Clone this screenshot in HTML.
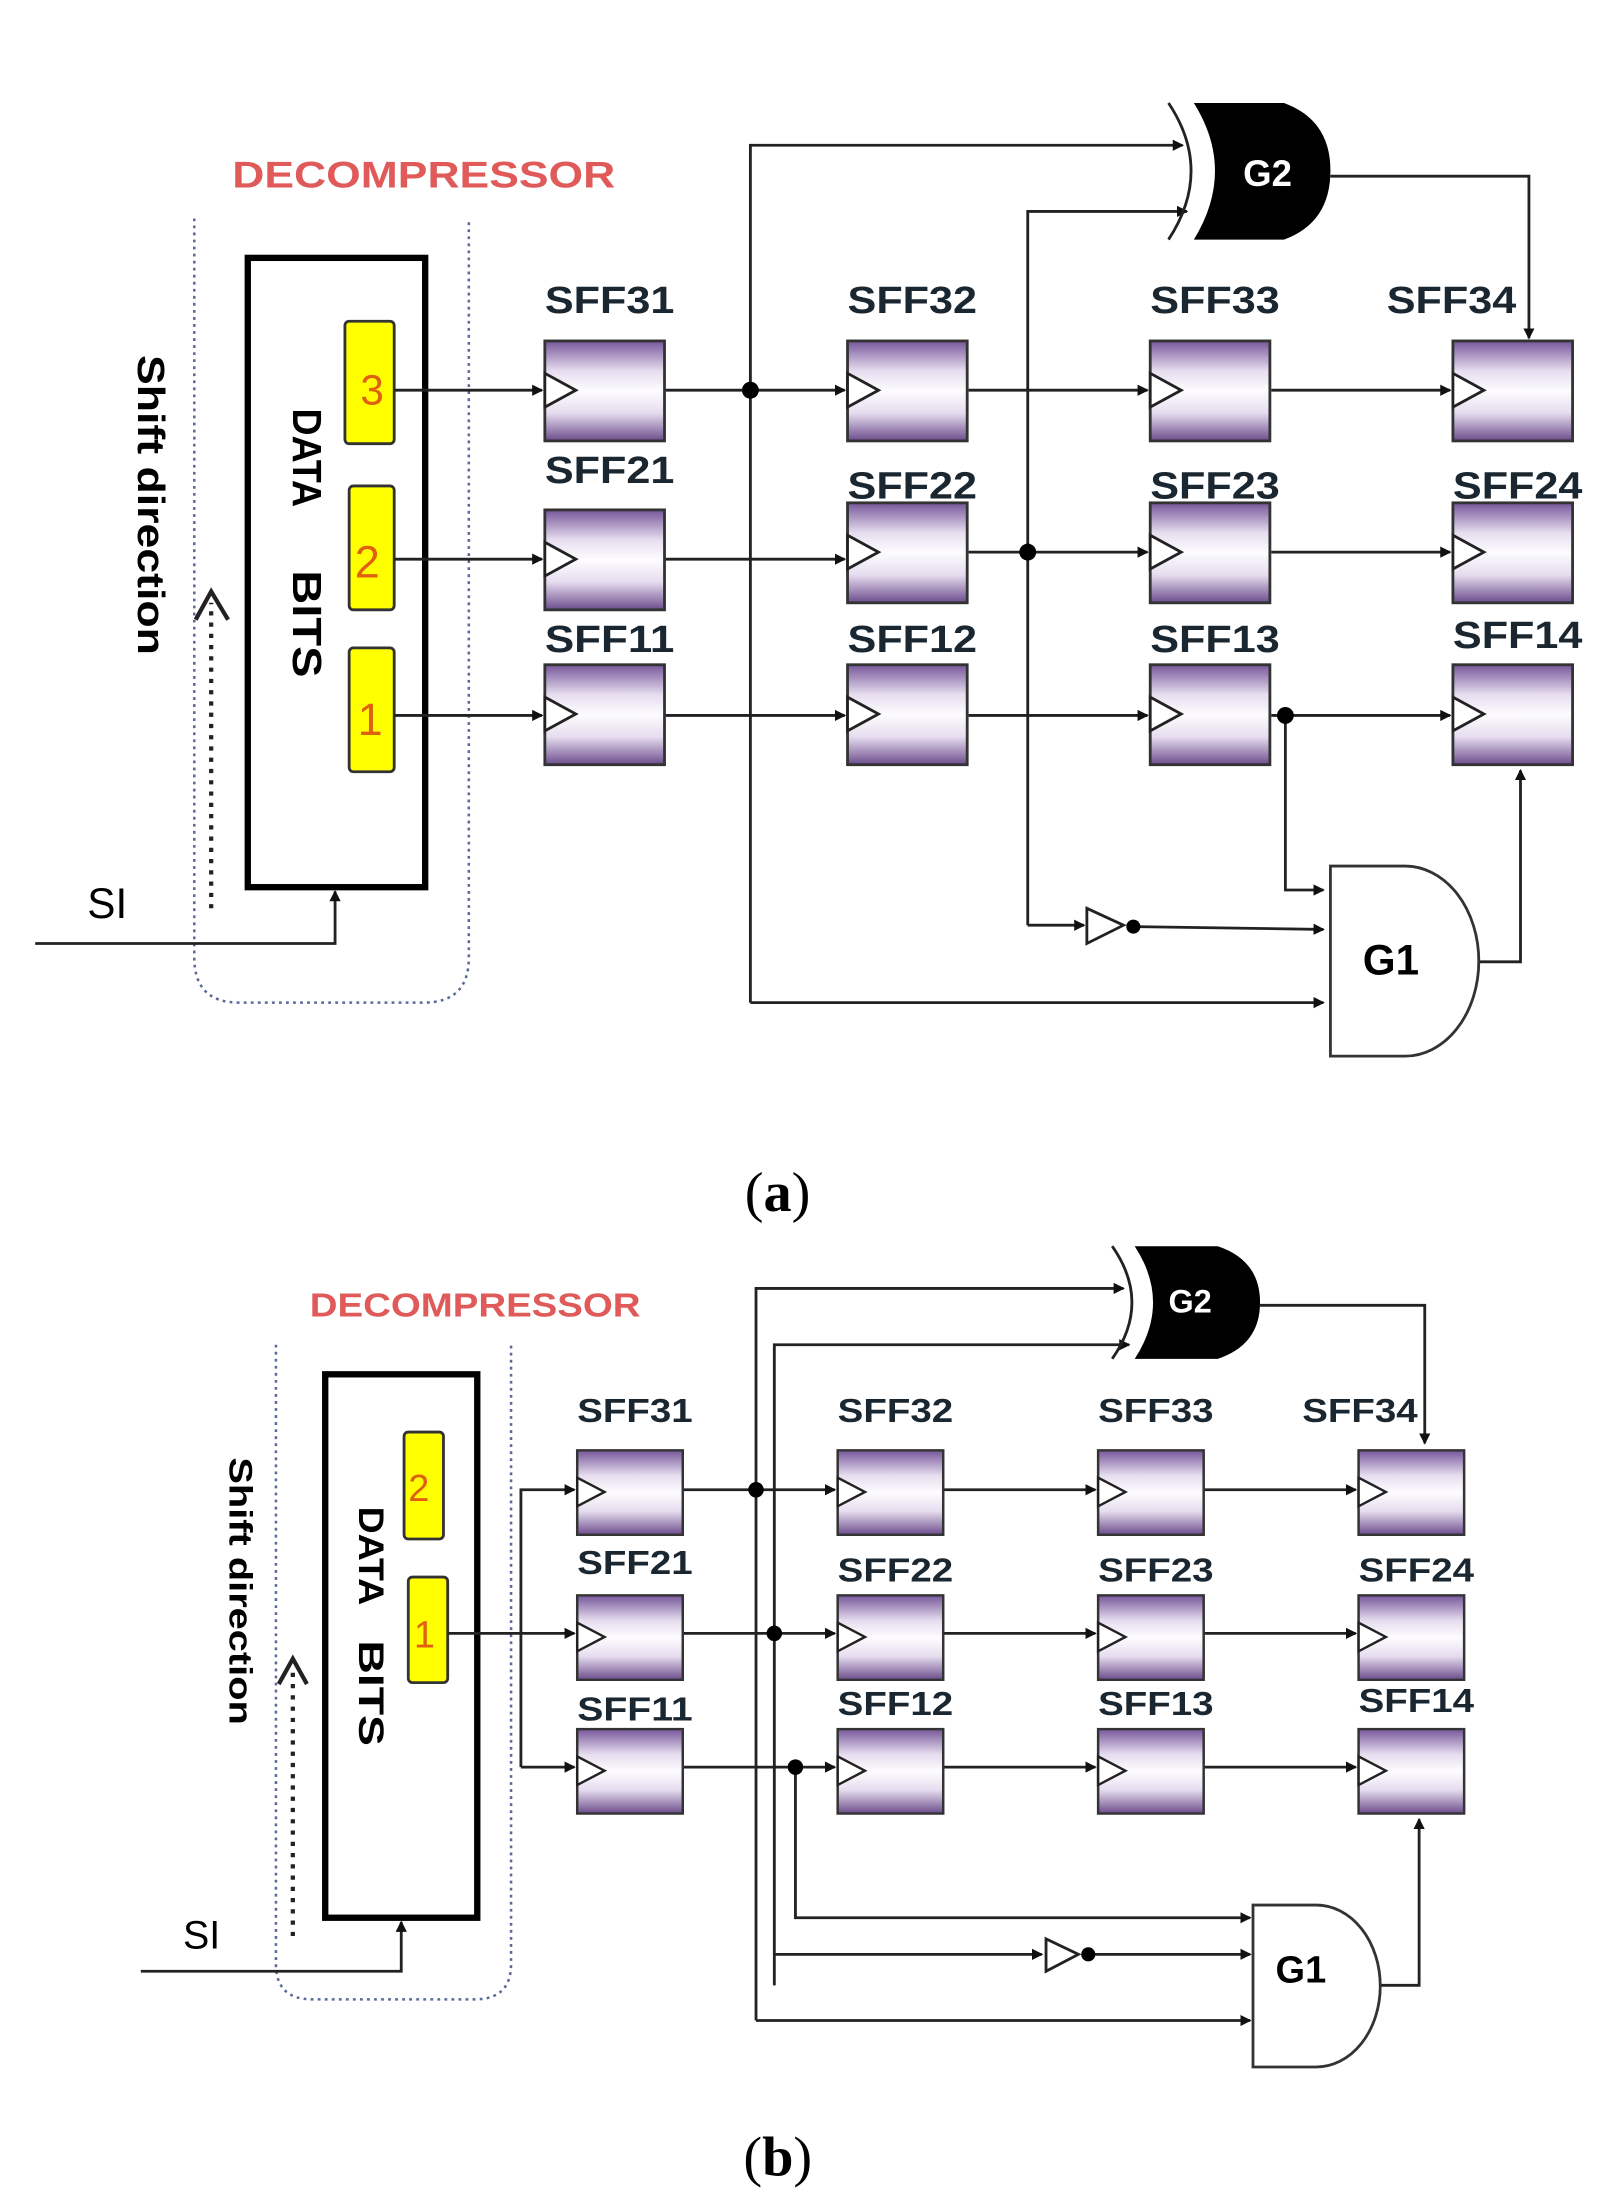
<!DOCTYPE html>
<html><head><meta charset="utf-8"><style>
html,body{margin:0;padding:0;background:#fff;width:1612px;height:2208px;overflow:hidden}
svg{display:block}
text{font-family:"Liberation Sans",sans-serif;font-weight:bold}
</style></head><body>
<svg width="1612" height="2208" viewBox="0 0 1145 1568" xmlns="http://www.w3.org/2000/svg">
<defs>
<linearGradient id="g" x1="0" y1="0" x2="0" y2="1">
<stop offset="0" stop-color="#76569a"/><stop offset="0.3" stop-color="#e6ddef"/><stop offset="0.5" stop-color="#fdfcfe"/><stop offset="0.72" stop-color="#e6ddef"/><stop offset="1" stop-color="#6c4c8c"/>
</linearGradient>
<marker id="a" markerWidth="8" markerHeight="8" refX="7" refY="4" orient="auto" markerUnits="userSpaceOnUse"><path d="M0,0 L8,4 L0,8 Z" fill="#111"/></marker>
<g id="ff"><rect x="0" y="0" width="85" height="71" fill="url(#g)" stroke="#333" stroke-width="2"/><path d="M0,23 L22,35 L0,47 Z" fill="#fff" stroke="#222" stroke-width="2"/></g>
</defs>

<!-- ===== (a) ===== -->
<text x="165" y="133" font-size="26" fill="#e05a5a" textLength="272" lengthAdjust="spacingAndGlyphs">DECOMPRESSOR</text>
<path d="M138,155 L138,680 Q138,712 170,712 L301,712 Q333,712 333,680 L333,155" fill="none" stroke="#5a6a9a" stroke-width="1.8" stroke-dasharray="2,3"/>
<rect x="176" y="183" width="126" height="447" fill="#fff" stroke="#000" stroke-width="4.5"/>
<rect x="245" y="228" width="35" height="87" rx="3" fill="#ffff00" stroke="#333" stroke-width="2"/>
<rect x="248" y="345" width="32" height="88" rx="3" fill="#ffff00" stroke="#333" stroke-width="2"/>
<rect x="248" y="460" width="32" height="88" rx="3" fill="#ffff00" stroke="#333" stroke-width="2"/>
<text x="256" y="287" font-size="30" fill="#e06010" style="font-weight:normal">3</text>
<text x="252" y="410" font-size="32" fill="#e06010" style="font-weight:normal">2</text>
<text x="254" y="522" font-size="32" fill="#e06010" style="font-weight:normal">1</text>
<text transform="translate(208,290) rotate(90)" font-size="29" textLength="70" lengthAdjust="spacingAndGlyphs">DATA</text>
<text transform="translate(208,405) rotate(90)" font-size="29" textLength="76" lengthAdjust="spacingAndGlyphs">BITS</text>
<text transform="translate(98,252) rotate(90)" font-size="27" textLength="213" lengthAdjust="spacingAndGlyphs">Shift direction</text>
<line x1="150" y1="645" x2="150" y2="428" stroke="#222" stroke-width="3" stroke-dasharray="3,5"/>
<path d="M139,440 L150,420 L162,440" fill="none" stroke="#222" stroke-width="3"/>
<text x="62" y="652" font-size="30" style="font-weight:normal">SI</text>
<path d="M25,670 L238,670 L238,633" fill="none" stroke="#222" stroke-width="2" marker-end="url(#a)"/>

<g stroke="#222" stroke-width="2" fill="none">
<line x1="280" y1="277" x2="385" y2="277" marker-end="url(#a)"/>
<line x1="280" y1="397" x2="385" y2="397" marker-end="url(#a)"/>
<line x1="280" y1="508" x2="385" y2="508" marker-end="url(#a)"/>
<line x1="472" y1="277" x2="600" y2="277" marker-end="url(#a)"/>
<line x1="472" y1="397" x2="600" y2="397" marker-end="url(#a)"/>
<line x1="472" y1="508" x2="600" y2="508" marker-end="url(#a)"/>
<line x1="688" y1="277" x2="815" y2="277" marker-end="url(#a)"/>
<line x1="688" y1="392" x2="815" y2="392" marker-end="url(#a)"/>
<line x1="688" y1="508" x2="815" y2="508" marker-end="url(#a)"/>
<line x1="903" y1="277" x2="1030" y2="277" marker-end="url(#a)"/>
<line x1="903" y1="392" x2="1030" y2="392" marker-end="url(#a)"/>
<line x1="903" y1="508" x2="1030" y2="508" marker-end="url(#a)"/>
<path d="M533,712 L533,103 L840,103" marker-end="url(#a)"/>
<line x1="533" y1="712" x2="940" y2="712" marker-end="url(#a)"/>
<path d="M730,657 L730,150 L843,150" marker-end="url(#a)"/>
<line x1="730" y1="657" x2="770" y2="657" marker-end="url(#a)"/>
<line x1="805" y1="658" x2="940" y2="660" marker-end="url(#a)"/>
<path d="M913,508 L913,632 L940,632" marker-end="url(#a)"/>
<path d="M945,125 L1086,125 L1086,240" marker-end="url(#a)"/>
<path d="M1050,683 L1080,683 L1080,547" marker-end="url(#a)"/>
</g>
<circle cx="533" cy="277" r="6" fill="#000"/>
<circle cx="730" cy="392" r="6" fill="#000"/>
<circle cx="913" cy="508" r="6" fill="#000"/>
<path d="M772,645 L798,657 L772,670 Z" fill="#fff" stroke="#222" stroke-width="2"/>
<circle cx="805" cy="658" r="5" fill="#000"/>
<path d="M830,73 Q862,121 830,170" fill="none" stroke="#222" stroke-width="2"/>
<path d="M848,73 L912,73 Q945,85 945,121 Q945,158 912,170 L848,170 Q878,121 848,73 Z" fill="#000"/>
<text x="883" y="132" font-size="26" fill="#fff">G2</text>
<path d="M945,615 L998,615 A52,67 0 0 1 998,750 L945,750 Z" fill="#fff" stroke="#333" stroke-width="2"/>
<text x="968" y="692" font-size="30">G1</text>

<use href="#ff" x="387" y="242"/><use href="#ff" x="602" y="242"/><use href="#ff" x="817" y="242"/><use href="#ff" x="1032" y="242"/>
<use href="#ff" x="387" y="362"/><use href="#ff" x="602" y="357"/><use href="#ff" x="817" y="357"/><use href="#ff" x="1032" y="357"/>
<use href="#ff" x="387" y="472"/><use href="#ff" x="602" y="472"/><use href="#ff" x="817" y="472"/><use href="#ff" x="1032" y="472"/>
<g font-size="27" fill="#1a2630">
<text x="387" y="222" textLength="92" lengthAdjust="spacingAndGlyphs">SFF31</text><text x="602" y="222" textLength="92" lengthAdjust="spacingAndGlyphs">SFF32</text><text x="817" y="222" textLength="92" lengthAdjust="spacingAndGlyphs">SFF33</text><text x="985" y="222" textLength="92" lengthAdjust="spacingAndGlyphs">SFF34</text>
<text x="387" y="343" textLength="92" lengthAdjust="spacingAndGlyphs">SFF21</text><text x="602" y="354" textLength="92" lengthAdjust="spacingAndGlyphs">SFF22</text><text x="817" y="354" textLength="92" lengthAdjust="spacingAndGlyphs">SFF23</text><text x="1032" y="354" textLength="92" lengthAdjust="spacingAndGlyphs">SFF24</text>
<text x="387" y="463" textLength="92" lengthAdjust="spacingAndGlyphs">SFF11</text><text x="602" y="463" textLength="92" lengthAdjust="spacingAndGlyphs">SFF12</text><text x="817" y="463" textLength="92" lengthAdjust="spacingAndGlyphs">SFF13</text><text x="1032" y="460" textLength="92" lengthAdjust="spacingAndGlyphs">SFF14</text>
</g>
<text x="529" y="860" font-size="40" style="font-family:'Liberation Serif',serif;font-weight:normal">(<tspan font-weight="bold">a</tspan>)</text>

<!-- ===== (b) ===== -->
<text x="220" y="935" font-size="24" fill="#e05a5a" textLength="235" lengthAdjust="spacingAndGlyphs">DECOMPRESSOR</text>
<path d="M196,955 L196,1395 Q196,1420 222,1420 L337,1420 Q363,1420 363,1395 L363,955" fill="none" stroke="#5a6a9a" stroke-width="1.8" stroke-dasharray="2,3"/>
<rect x="231" y="976" width="108" height="386" fill="#fff" stroke="#000" stroke-width="4.5"/>
<rect x="287" y="1017" width="28" height="76" rx="3" fill="#ffff00" stroke="#333" stroke-width="2"/>
<rect x="290" y="1120" width="28" height="75" rx="3" fill="#ffff00" stroke="#333" stroke-width="2"/>
<text x="290" y="1066" font-size="27" fill="#e06010" style="font-weight:normal">2</text>
<text x="294" y="1170" font-size="27" fill="#e06010" style="font-weight:normal">1</text>
<text transform="translate(255,1070) rotate(90)" font-size="25" textLength="70" lengthAdjust="spacingAndGlyphs">DATA</text>
<text transform="translate(255,1165) rotate(90)" font-size="25" textLength="75" lengthAdjust="spacingAndGlyphs">BITS</text>
<text transform="translate(163,1035) rotate(90)" font-size="23" textLength="190" lengthAdjust="spacingAndGlyphs">Shift direction</text>
<line x1="208" y1="1375" x2="208" y2="1186" stroke="#222" stroke-width="3" stroke-dasharray="3,5"/>
<path d="M198,1196 L208,1178 L218,1196" fill="none" stroke="#222" stroke-width="3"/>
<text x="130" y="1384" font-size="28" style="font-weight:normal">SI</text>
<path d="M100,1400 L285,1400 L285,1365" fill="none" stroke="#222" stroke-width="2" marker-end="url(#a)"/>

<g stroke="#222" stroke-width="2" fill="none">
<line x1="318" y1="1160" x2="370" y2="1160"/>
<path d="M370,1255 L370,1058 L408,1058" marker-end="url(#a)"/>
<line x1="370" y1="1160" x2="408" y2="1160" marker-end="url(#a)"/>
<line x1="370" y1="1255" x2="408" y2="1255" marker-end="url(#a)"/>
<line x1="485" y1="1058" x2="593" y2="1058" marker-end="url(#a)"/>
<line x1="485" y1="1160" x2="593" y2="1160" marker-end="url(#a)"/>
<line x1="485" y1="1255" x2="593" y2="1255" marker-end="url(#a)"/>
<line x1="670" y1="1058" x2="778" y2="1058" marker-end="url(#a)"/>
<line x1="670" y1="1160" x2="778" y2="1160" marker-end="url(#a)"/>
<line x1="670" y1="1255" x2="778" y2="1255" marker-end="url(#a)"/>
<line x1="855" y1="1058" x2="963" y2="1058" marker-end="url(#a)"/>
<line x1="855" y1="1160" x2="963" y2="1160" marker-end="url(#a)"/>
<line x1="855" y1="1255" x2="963" y2="1255" marker-end="url(#a)"/>
<path d="M537,1435 L537,915 L798,915" marker-end="url(#a)"/>
<line x1="537" y1="1435" x2="888" y2="1435" marker-end="url(#a)"/>
<path d="M550,1410 L550,955 L802,955" marker-end="url(#a)"/>
<line x1="550" y1="1388" x2="740" y2="1388" marker-end="url(#a)"/>
<line x1="775" y1="1388" x2="888" y2="1388" marker-end="url(#a)"/>
<path d="M565,1255 L565,1362 L888,1362" marker-end="url(#a)"/>
<path d="M895,927 L1012,927 L1012,1025" marker-end="url(#a)"/>
<path d="M980,1410 L1008,1410 L1008,1292" marker-end="url(#a)"/>
</g>
<circle cx="537" cy="1058" r="5.5" fill="#000"/>
<circle cx="550" cy="1160" r="5.5" fill="#000"/>
<circle cx="565" cy="1255" r="5.5" fill="#000"/>
<path d="M743,1377 L766,1388 L743,1400 Z" fill="#fff" stroke="#222" stroke-width="2"/>
<circle cx="773" cy="1388" r="5" fill="#000"/>
<path d="M790,885 Q818,925 790,965" fill="none" stroke="#222" stroke-width="2"/>
<path d="M806,885 L865,885 Q895,895 895,925 Q895,955 865,965 L806,965 Q832,925 806,885 Z" fill="#000"/>
<text x="830" y="932" font-size="23" fill="#fff">G2</text>
<path d="M890,1353 L935,1353 A45,57 0 0 1 935,1468 L890,1468 Z" fill="#fff" stroke="#333" stroke-width="2"/>
<text x="906" y="1408" font-size="27">G1</text>

<g transform="translate(410,1030) scale(0.882,0.845)"><use href="#ff"/></g>
<g transform="translate(595,1030) scale(0.882,0.845)"><use href="#ff"/></g>
<g transform="translate(780,1030) scale(0.882,0.845)"><use href="#ff"/></g>
<g transform="translate(965,1030) scale(0.882,0.845)"><use href="#ff"/></g>
<g transform="translate(410,1133) scale(0.882,0.845)"><use href="#ff"/></g>
<g transform="translate(595,1133) scale(0.882,0.845)"><use href="#ff"/></g>
<g transform="translate(780,1133) scale(0.882,0.845)"><use href="#ff"/></g>
<g transform="translate(965,1133) scale(0.882,0.845)"><use href="#ff"/></g>
<g transform="translate(410,1228) scale(0.882,0.845)"><use href="#ff"/></g>
<g transform="translate(595,1228) scale(0.882,0.845)"><use href="#ff"/></g>
<g transform="translate(780,1228) scale(0.882,0.845)"><use href="#ff"/></g>
<g transform="translate(965,1228) scale(0.882,0.845)"><use href="#ff"/></g>
<g font-size="24" fill="#1a2630">
<text x="410" y="1010" textLength="82" lengthAdjust="spacingAndGlyphs">SFF31</text><text x="595" y="1010" textLength="82" lengthAdjust="spacingAndGlyphs">SFF32</text><text x="780" y="1010" textLength="82" lengthAdjust="spacingAndGlyphs">SFF33</text><text x="925" y="1010" textLength="82" lengthAdjust="spacingAndGlyphs">SFF34</text>
<text x="410" y="1118" textLength="82" lengthAdjust="spacingAndGlyphs">SFF21</text><text x="595" y="1123" textLength="82" lengthAdjust="spacingAndGlyphs">SFF22</text><text x="780" y="1123" textLength="82" lengthAdjust="spacingAndGlyphs">SFF23</text><text x="965" y="1123" textLength="82" lengthAdjust="spacingAndGlyphs">SFF24</text>
<text x="410" y="1222" textLength="82" lengthAdjust="spacingAndGlyphs">SFF11</text><text x="595" y="1218" textLength="82" lengthAdjust="spacingAndGlyphs">SFF12</text><text x="780" y="1218" textLength="82" lengthAdjust="spacingAndGlyphs">SFF13</text><text x="965" y="1216" textLength="82" lengthAdjust="spacingAndGlyphs">SFF14</text>
</g>
<text x="528" y="1545" font-size="40" style="font-family:'Liberation Serif',serif;font-weight:normal">(<tspan font-weight="bold">b</tspan>)</text>
</svg>
</body></html>
